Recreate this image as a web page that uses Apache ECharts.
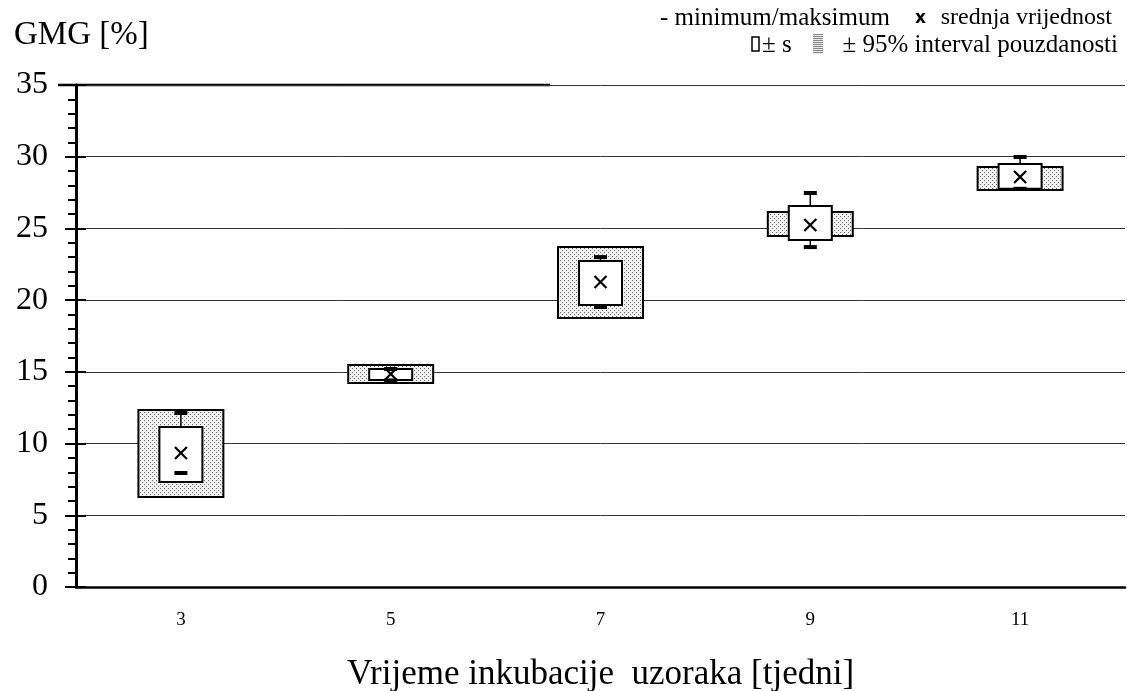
<!DOCTYPE html>
<html>
<head>
<meta charset="utf-8">
<script src="https://cdn.jsdelivr.net/npm/echarts@6/dist/echarts.min.js"></script>
<style>
  html, body { margin: 0; padding: 0; background: #fff; }
  #chart { width: 1127px; height: 691px; }
</style>
</head>
<body>
<div id="chart"></div>
<script>
// tjedni inkubacije
const weeks = ['3', '5', '7', '9', '11']
// srednja vrijednost
const means = [9.34, 14.85, 21.26, 25.24, 28.58]
// +/- s
const sdLow = [7.32, 14.43, 19.66, 24.19, 27.76]
const sdHigh = [11.16, 15.2, 22.73, 26.56, 29.49]
// +/- 95% interval pouzdanosti
const ciLow = [6.27, 14.22, 18.75, 24.47, 27.68]
const ciHigh = [12.34, 15.48, 23.7, 26.14, 29.28]
// minimum / maksimum
const minVals = [7.95, 14.4, 19.52, 23.7, 27.76]
const maxVals = [12.13, 15.2, 23.0, 27.47, 29.98]
const yTicks = { min: 0, max: 35, interval: 5 }

const serif = 'Liberation Serif'

// tockasti uzorak za interval pouzdanosti
const dots = document.createElement('canvas')
dots.width = 4
dots.height = 4
const dg = dots.getContext('2d')
dg.fillStyle = '#f0f0f0'
dg.fillRect(0, 0, 4, 4)
dg.fillStyle = '#6a6a6a'
dg.fillRect(0, 0, 1, 1)
dg.fillRect(2, 2, 1, 1)

// crtkani uzorak za legendu
const hatch = document.createElement('canvas')
hatch.width = 2
hatch.height = 2
const hg = hatch.getContext('2d')
hg.fillStyle = '#e8e8e8'
hg.fillRect(0, 0, 2, 2)
hg.fillStyle = '#888'
hg.fillRect(0, 0, 2, 1)

const boxData = weeks.map((w, i) => [i, means[i], sdLow[i], sdHigh[i], ciLow[i], ciHigh[i], minVals[i], maxVals[i]])

function renderBox(params, api) {
  const idx = api.value(0)
  const band = api.size([1, 0])[0]
  const mean = api.coord([idx, api.value(1)])
  const sdLo = api.coord([idx, api.value(2)])
  const sdHi = api.coord([idx, api.value(3)])
  const ciLo = api.coord([idx, api.value(4)])
  const ciHi = api.coord([idx, api.value(5)])
  const mn = api.coord([idx, api.value(6)])
  const mx = api.coord([idx, api.value(7)])
  const cx = mean[0]
  const ow = band * 0.405
  const iw = band * 0.205
  const cw = band * 0.062
  const m = 6

  return {
    type: 'group',
    children: [
      {
        type: 'rect',
        shape: { x: cx - ow / 2, y: ciHi[1], width: ow, height: ciLo[1] - ciHi[1] },
        style: { fill: { image: dots, repeat: 'repeat' }, stroke: '#000', lineWidth: 2 },
      },
      {
        type: 'line',
        shape: { x1: cx, y1: mx[1], x2: cx, y2: mn[1] },
        style: { stroke: '#000', lineWidth: 1.5 },
      },
      {
        type: 'rect',
        shape: { x: cx - iw / 2, y: sdHi[1], width: iw, height: sdLo[1] - sdHi[1] },
        style: { fill: '#fff', stroke: '#000', lineWidth: 2 },
      },
      {
        type: 'rect',
        shape: { x: cx - cw / 2, y: mx[1] - 2, width: cw, height: 4 },
        style: { fill: '#000' },
      },
      {
        type: 'rect',
        shape: { x: cx - cw / 2, y: mn[1] - 2, width: cw, height: 4 },
        style: { fill: '#000' },
      },
      {
        type: 'line',
        shape: { x1: cx - m, y1: mean[1] - m, x2: cx + m, y2: mean[1] + m },
        style: { stroke: '#000', lineWidth: 2.2 },
      },
      {
        type: 'line',
        shape: { x1: cx - m, y1: mean[1] + m, x2: cx + m, y2: mean[1] - m },
        style: { stroke: '#000', lineWidth: 2.2 },
      },
    ],
  }
}

const chart = echarts.init(document.getElementById('chart'))

chart.setOption({
  animation: false,
  backgroundColor: '#fff',
  grid: { left: 76, right: 2, top: 85, bottom: 104, outerBoundsMode: 'none' },
  xAxis: [
    {
      type: 'category',
      data: weeks,
      position: 'bottom',
      axisLine: { lineStyle: { color: '#000', width: 2.5 } },
      axisTick: { length: 10, lineStyle: { color: '#000', width: 2 } },
      axisLabel: { color: '#000', fontFamily: serif, fontSize: 19, margin: 24 },
      name: 'Vrijeme inkubacije  uzoraka [tjedni]',
      nameLocation: 'middle',
      nameGap: 70,
      nameTextStyle: { color: '#000', fontFamily: serif, fontSize: 35 },
      splitLine: { show: false },
    },
    {
      type: 'category',
      data: weeks,
      position: 'top',
      offset: -502,
      axisLine: { show: false },
      axisTick: { length: 9, lineStyle: { color: '#000', width: 2 } },
      axisLabel: { show: false },
      splitLine: { show: false },
    },
  ],
  yAxis: [
    {
      type: 'value',
      min: yTicks.min,
      max: yTicks.max,
      interval: yTicks.interval,
      position: 'left',
      axisLine: { show: true, lineStyle: { color: '#000', width: 3 } },
      axisTick: { show: true, length: 11, lineStyle: { color: '#000', width: 2 } },
      minorTick: { show: true, splitNumber: 5, length: 8, lineStyle: { color: '#000', width: 2 } },
      axisLabel: { color: '#000', fontFamily: serif, fontSize: 32, margin: 28 },
      splitLine: { lineStyle: { color: '#333', width: 1 } },
    },
    {
      type: 'value',
      min: yTicks.min,
      max: yTicks.max,
      interval: yTicks.interval,
      position: 'right',
      offset: -1049,
      axisLine: { show: false },
      axisTick: { show: true, length: 10, lineStyle: { color: '#000', width: 2 } },
      axisLabel: { show: false },
      splitLine: { show: false },
    },
  ],
  graphic: [
    {
      type: 'text',
      left: 14,
      top: 19,
      style: { text: 'GMG [%]', fill: '#000', font: '33px "Liberation Serif"' },
    },
    {
      type: 'line',
      shape: { x1: 58, y1: 85, x2: 550, y2: 85 },
      style: { stroke: '#000', lineWidth: 2.5 },
    },
    {
      type: 'text',
      x: 660,
      y: 18,
      style: { text: '- minimum/maksimum', fill: '#000', font: '25px "Liberation Serif"', verticalAlign: 'middle' },
    },
    {
      type: 'text',
      x: 915,
      y: 19,
      style: { text: 'x', fill: '#000', font: 'bold 17px "DejaVu Sans"', verticalAlign: 'middle' },
    },
    {
      type: 'text',
      x: 1112,
      y: 18,
      style: { text: 'srednja vrijednost', fill: '#000', font: '24px "Liberation Serif"', align: 'right', verticalAlign: 'middle' },
    },
    {
      type: 'rect',
      shape: { x: 752, y: 37, width: 7, height: 14 },
      style: { fill: '#fff', stroke: '#000', lineWidth: 1.5 },
    },
    {
      type: 'text',
      x: 762,
      y: 45,
      style: { text: '± s', fill: '#000', font: '25px "Liberation Serif"', verticalAlign: 'middle' },
    },
    {
      type: 'rect',
      shape: { x: 813, y: 34, width: 10, height: 20 },
      style: { fill: { image: hatch, repeat: 'repeat' } },
    },
    {
      type: 'text',
      x: 1118,
      y: 45,
      style: { text: '± 95% interval pouzdanosti', fill: '#000', font: '25px "Liberation Serif"', align: 'right', verticalAlign: 'middle' },
    },
  ],
  series: [
    {
      type: 'custom',
      xAxisIndex: 0,
      yAxisIndex: 0,
      renderItem: renderBox,
      encode: { x: 0, y: [1, 2, 3, 4, 5, 6, 7] },
      data: boxData,
      z: 5,
    },
  ],
})
</script>
</body>
</html>
